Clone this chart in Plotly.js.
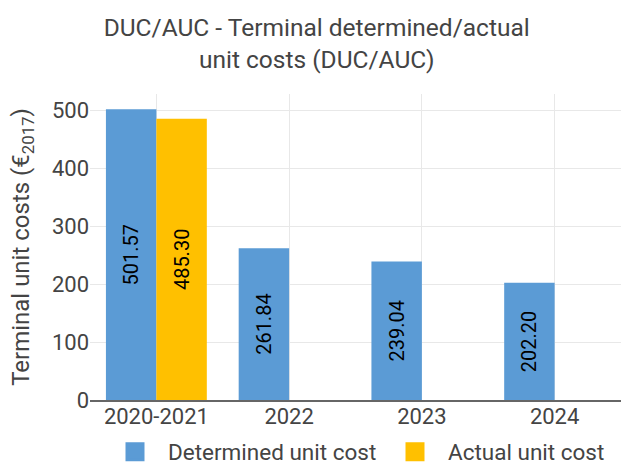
<!DOCTYPE html>
<html>
<head>
<meta charset="utf-8">
<script src="https://cdn.plot.ly/plotly-3.0.1.min.js"></script>
<style>html,body{margin:0;padding:0;background:#fff;}#chart{width:621px;height:466px;}</style>
</head>
<body>
<div id="chart"></div>
<script>
var categories = ["2020-2021", "2022", "2023", "2024"];
var determined = [501.57, 261.84, 239.04, 202.20];
var actual = [485.30, null, null, null];
var seriesNames = ["Determined unit cost", "Actual unit cost"];
var seriesColors = ["#5B9BD5", "#FFC000"];

function present(vals) {
  var xs = [], ys = [];
  vals.forEach(function (v, i) { if (v != null) { xs.push(categories[i]); ys.push(v); } });
  return { x: xs, y: ys, text: ys.map(function (v) { return v.toFixed(2); }) };
}
var detP = present(determined);
var actP = present(actual);

var traces = [
  {
    type: "bar", name: seriesNames[0], x: detP.x, y: detP.y,
    marker: { color: seriesColors[0] }, showlegend: false,
    text: detP.text, textposition: "inside", insidetextanchor: "middle",
    textangle: -90, textfont: { color: "#000", size: 20, family: "Roboto" },
    hoverinfo: "none"
  },
  {
    type: "bar", name: seriesNames[1], x: actP.x, y: actP.y,
    marker: { color: seriesColors[1] }, showlegend: false,
    text: actP.text, textposition: "inside", insidetextanchor: "middle",
    textangle: -90, textfont: { color: "#000", size: 20, family: "Roboto" },
    hoverinfo: "none"
  },
  {
    type: "scatter", mode: "markers", name: seriesNames[0], x: [categories[0]], y: [null],
    marker: { symbol: "square", size: 16, color: seriesColors[0], line: { color: seriesColors[0], width: 3 } },
    hoverinfo: "none", legend: "legend"
  },
  {
    type: "scatter", mode: "markers", name: seriesNames[1], x: [categories[0]], y: [null],
    marker: { symbol: "square", size: 16, color: seriesColors[1], line: { color: seriesColors[1], width: 3 } },
    hoverinfo: "none", legend: "legend2"
  }
];

var legendBase = {
  orientation: "h", xanchor: "left", xref: "container",
  y: 0.03, yanchor: "middle", yref: "container", bgcolor: "rgba(0,0,0,0)",
  font: { size: 22.5, color: "#444" }, itemsizing: "trace", itemwidth: 56
};

var layout = {
  width: 621, height: 466,
  margin: { l: 90, r: 0, t: 94, b: 66, autoexpand: false },
  font: { family: "Roboto", color: "#444", size: 22 },
  paper_bgcolor: "#fff", plot_bgcolor: "#fff",
  title: {
    text: "DUC/AUC - Terminal determined/actual<br>unit costs (DUC/AUC)",
    font: { size: 24.5, color: "#444", family: "Roboto" },
    x: 0.51, xref: "container", xanchor: "center",
    y: 0.922, yref: "container", yanchor: "top"
  },
  barmode: "group", bargap: 0.24, bargroupgap: 0,
  xaxis: {
    type: "category", categoryorder: "array", categoryarray: categories,
    range: [-0.5, categories.length - 0.5],
    showgrid: true, gridcolor: "#e8e8e8",
    showline: true, linecolor: "#666", linewidth: 2,
    tickfont: { size: 22, color: "#444" }, ticks: "", ticklabelstandoff: -4
  },
  yaxis: {
    title: { text: "Terminal unit costs (€<sub>2017</sub>)", font: { size: 24, color: "#444" }, standoff: 15 },
    showgrid: true, gridcolor: "#e8e8e8", zeroline: false,
    dtick: 100, tickfont: { size: 22, color: "#444" }, ticks: ""
  },
  legend: Object.assign({}, legendBase, { x: 102 / 621 }),
  legend2: Object.assign({}, legendBase, { x: 382 / 621 }),
  showlegend: true
};

Plotly.newPlot("chart", traces, layout, { displayModeBar: false, staticPlot: true });
</script>
</body>
</html>
